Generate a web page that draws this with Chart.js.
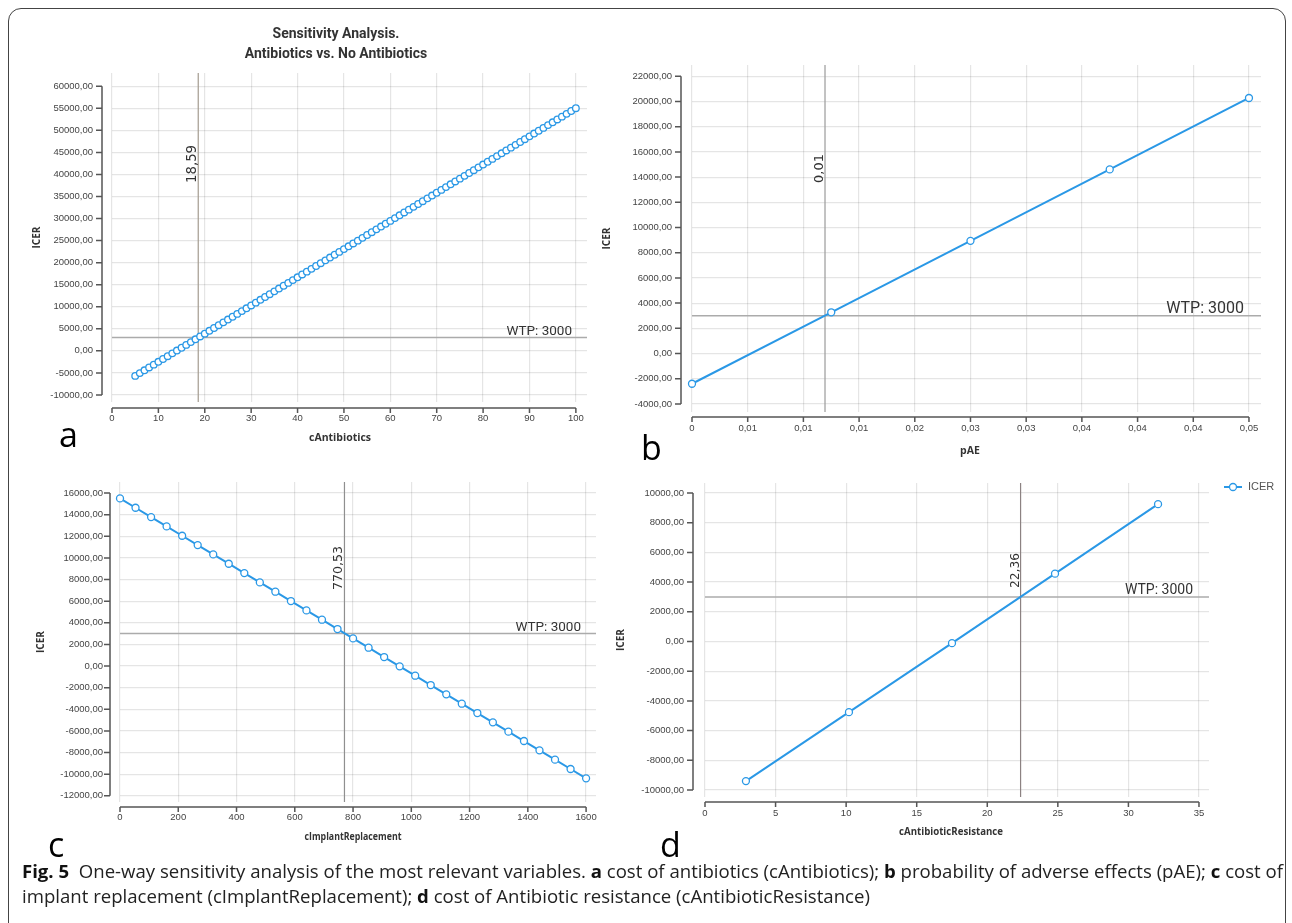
<!DOCTYPE html>
<html><head><meta charset="utf-8">
<script src="https://cdn.jsdelivr.net/npm/chart.js@4.4.1/dist/chart.umd.min.js"></script>
<style>
html,body{margin:0;padding:0;background:#fff;}
body{width:1292px;height:923px;position:relative;overflow:hidden;}
canvas{position:absolute;left:0;top:0;}
#frame{position:absolute;left:8px;top:8px;width:1276px;height:1000px;border:1px solid #444;border-radius:13px;}
#title{position:absolute;left:186px;top:23px;width:300px;text-align:center;font:bold 14px/20px Roboto,sans-serif;color:#333;}
#caption{position:absolute;left:22px;top:859px;font:17.5px/25px 'Open Sans',sans-serif;color:#222;white-space:nowrap;transform-origin:0 0;}
#caption b{font-weight:700;color:#111;}
#l1,#l2{display:inline-block;white-space:nowrap;}
</style></head><body>
<div id="frame"></div>
<canvas id="ca" width="1292" height="923"></canvas>
<canvas id="cb" width="1292" height="923"></canvas>
<canvas id="cc" width="1292" height="923"></canvas>
<canvas id="cd" width="1292" height="923"></canvas>
<div id="title">Sensitivity Analysis.<br>Antibiotics vs. No Antibiotics</div>
<div id="caption"><span id="l1"><b>Fig. 5</b>&nbsp;&nbsp;One-way sensitivity analysis of the most relevant variables. <b>a</b> cost of antibiotics (cAntibiotics); <b>b</b> probability of adverse effects (pAE); <b>c</b> cost of</span><br><span id="l2">implant replacement (cImplantReplacement); <b>d</b> cost of Antibiotic resistance (cAntibioticResistance)</span></div>
<script>
// ---------- DATA ----------
const WTP = 3000;
// panel a: cAntibiotics
const aX = [5,6,7,8,9,10,11,12,13,14,15,16,17,18,19,20,21,22,23,24,25,26,27,28,29,30,31,32,33,34,35,36,37,38,39,40,41,42,43,44,45,46,47,48,49,50,51,52,53,54,55,56,57,58,59,60,61,62,63,64,65,66,67,68,69,70,71,72,73,74,75,76,77,78,79,80,81,82,83,84,85,86,87,88,89,90,91,92,93,94,95,96,97,98,99,100];
const aICER = [-5685,-5046,-4407,-3768,-3129,-2490,-1851,-1212,-573,66,705,1344,1983,2622,3261,3900,4539,5178,5817,6456,7095,7734,8373,9012,9651,10290,10929,11568,12207,12846,13485,14124,14763,15402,16041,16680,17319,17958,18597,19236,19875,20514,21153,21792,22431,23070,23709,24348,24987,25626,26265,26904,27543,28182,28821,29460,30099,30738,31377,32016,32655,33294,33933,34572,35211,35850,36489,37128,37767,38406,39045,39684,40323,40962,41601,42240,42879,43518,44157,44796,45435,46074,46713,47352,47991,48630,49269,49908,50547,51186,51825,52464,53103,53742,54381,55020];
const aCut = 18.59, aCutLabel = '18,59';
const aXTicks = [0,10,20,30,40,50,60,70,80,90,100];
const aXLabels = ['0','10','20','30','40','50','60','70','80','90','100'];
const aYTicks = [-10000,-5000,0,5000,10000,15000,20000,25000,30000,35000,40000,45000,50000,55000,60000];
const aYLabels = ['-10000,00','-5000,00','0,00','5000,00','10000,00','15000,00','20000,00','25000,00','30000,00','35000,00','40000,00','45000,00','50000,00','55000,00','60000,00'];

// panel b: pAE
const bX = [0, 0.0125, 0.025, 0.0375, 0.05];
const bICER = [-2400, 3270, 8940, 14610, 20280];
const bCut = 0.01194, bCutLabel = '0,01';
const bXTicks = [0,0.005,0.01,0.015,0.02,0.025,0.03,0.035,0.04,0.045,0.05];
const bXLabels = ['0','0,01','0,01','0,01','0,02','0,03','0,03','0,04','0,04','0,04','0,05'];
const bYTicks = [-4000,-2000,0,2000,4000,6000,8000,10000,12000,14000,16000,18000,20000,22000];
const bYLabels = ['-4000,00','-2000,00','0,00','2000,00','4000,00','6000,00','8000,00','10000,00','12000,00','14000,00','16000,00','18000,00','20000,00','22000,00'];

// panel c: cImplantReplacement
const cX = [0,53.3,106.7,160,213.3,266.7,320,373.3,426.7,480,533.3,586.7,640,693.3,746.7,800,853.3,906.7,960,1013.3,1066.7,1120,1173.3,1226.7,1280,1333.3,1386.7,1440,1493.3,1546.7,1600];
const cICER = [15500,14637,13774,12911,12048,11185,10322,9459,8596,7733,6870,6007,5144,4281,3418,2555,1692,829,-34,-897,-1760,-2623,-3486,-4349,-5212,-6075,-6938,-7801,-8664,-9527,-10390];
const cCut = 770.53, cCutLabel = '770,53';
const cXTicks = [0,200,400,600,800,1000,1200,1400,1600];
const cXLabels = ['0','200','400','600','800','1000','1200','1400','1600'];
const cYTicks = [-12000,-10000,-8000,-6000,-4000,-2000,0,2000,4000,6000,8000,10000,12000,14000,16000];
const cYLabels = ['-12000,00','-10000,00','-8000,00','-6000,00','-4000,00','-2000,00','0,00','2000,00','4000,00','6000,00','8000,00','10000,00','12000,00','14000,00','16000,00'];

// panel d: cAntibioticResistance
const dX = [2.9, 10.2, 17.5, 24.8, 32.1];
const dICER = [-9400, -4760, -110, 4570, 9250];
const dCut = 22.36, dCutLabel = '22,36';
const dXTicks = [0,5,10,15,20,25,30,35];
const dXLabels = ['0','5','10','15','20','25','30','35'];
const dYTicks = [-10000,-8000,-6000,-4000,-2000,0,2000,4000,6000,8000,10000];
const dYLabels = ['-10000,00','-8000,00','-6000,00','-4000,00','-2000,00','0,00','2000,00','4000,00','6000,00','8000,00','10000,00'];

// ---------- STYLE ----------
const BLUE = '#2a98e6';
const GRID = 'rgba(0,0,0,0.10)';
const TF = {family: "'Liberation Sans',Arial,sans-serif", size: 9.5};
const W = 1292, Hh = 923, YW = 100, XH = 30;

function makeDecor(P) {
  return {
    id: 'decor_' + P.id,
    beforeDatasetsDraw(chart) {
      const {ctx, chartArea: a, scales: {x, y}} = chart;
      ctx.save();
      const vx = x.getPixelForValue(P.cut);
      ctx.strokeStyle = P.vColor; ctx.lineWidth = 1.2;
      ctx.beginPath(); ctx.moveTo(vx, a.top); ctx.lineTo(vx, a.bottom); ctx.stroke();
      const wy = y.getPixelForValue(WTP);
      ctx.strokeStyle = '#ababab'; ctx.lineWidth = 1.5;
      ctx.beginPath(); ctx.moveTo(a.left, wy); ctx.lineTo(a.right, wy); ctx.stroke();
      ctx.restore();
    },
    afterDraw(chart) {
      const {ctx, chartArea: a, scales: {x, y}} = chart;
      ctx.save();
      const xt = x.ticks.map(t => x.getPixelForValue(t.value));
      const yt = y.ticks.map(t => y.getPixelForValue(t.value));
      ctx.strokeStyle = '#555'; ctx.lineWidth = 1.5;
      const ax = P.yAxisX;
      ctx.beginPath();
      ctx.moveTo(ax, Math.min(...yt)); ctx.lineTo(ax, Math.max(...yt));
      yt.forEach(p => { ctx.moveTo(ax - 6, p); ctx.lineTo(ax, p); });
      ctx.stroke();
      const ay = P.xAxisY;
      ctx.beginPath();
      ctx.moveTo(Math.min(...xt), ay); ctx.lineTo(Math.max(...xt), ay);
      xt.forEach(p => { ctx.moveTo(p, ay); ctx.lineTo(p, ay + 5); });
      ctx.stroke();
      // cut label (rotated)
      const vx = x.getPixelForValue(P.cut);
      ctx.fillStyle = '#333';
      ctx.font = P.cutFont + "px 'DejaVu Sans'";
      ctx.save();
      ctx.translate(vx - 2, P.cutLabelY); ctx.rotate(-Math.PI / 2);
      ctx.textAlign = 'left'; ctx.textBaseline = 'alphabetic';
      ctx.fillText(P.cutLabel, 0, 0);
      ctx.restore();
      // WTP label
      const wy = y.getPixelForValue(WTP);
      ctx.font = P.wtpFont + 'px Roboto';
      ctx.textAlign = 'right'; ctx.textBaseline = 'alphabetic';
      ctx.fillText('WTP: ' + WTP, P.wtpRight, wy - 3);
      // axis titles
      ctx.fillStyle = '#333';
      ctx.font = "bold 10.5px 'Open Sans'";
      ctx.textAlign = 'center'; ctx.textBaseline = 'middle';
      ctx.fillText(P.xTitle, P.xTitlePos[0], P.xTitlePos[1], P.xTitleW);
      ctx.save();
      ctx.translate(P.yTitleX, (a.top + a.bottom) / 2); ctx.rotate(-Math.PI / 2);
      ctx.fillText('ICER', 0, 0, 22);
      ctx.restore();
      // panel letter
      ctx.fillStyle = '#000';
      ctx.font = "34px 'Open Sans'";
      ctx.textAlign = 'left'; ctx.textBaseline = 'alphabetic';
      ctx.fillText(P.letter, P.letterPos[0], P.letterPos[1]);
      // legend
      if (P.legend) {
        const [lx, ly] = P.legend;
        ctx.strokeStyle = BLUE; ctx.lineWidth = 2;
        ctx.beginPath(); ctx.moveTo(lx, ly); ctx.lineTo(lx + 18, ly); ctx.stroke();
        ctx.fillStyle = '#fff'; ctx.lineWidth = 1.3;
        ctx.beginPath(); ctx.arc(lx + 9, ly, 3.5, 0, Math.PI * 2); ctx.fill(); ctx.stroke();
        ctx.fillStyle = '#555'; ctx.font = "11px 'Liberation Sans'";
        ctx.textBaseline = 'middle';
        ctx.fillText(chart.data.datasets[0].label, lx + 24, ly);
      }
      ctx.restore();
    }
  };
}

function panel(P) {
  const A = P.area;
  new Chart(document.getElementById(P.id), {
    type: 'line',
    data: {datasets: [{
      label: 'ICER',
      data: P.xs.map((v, i) => ({x: v, y: P.ys[i]})),
      borderColor: BLUE, backgroundColor: '#fff', borderWidth: 2,
      pointRadius: P.pr, pointBorderWidth: 1.3,
      pointBackgroundColor: '#fff', pointBorderColor: BLUE,
      tension: 0, clip: false
    }]},
    options: {
      responsive: false, animation: false, events: [],
      layout: {padding: {left: A.l - YW, top: A.t, right: W - A.r, bottom: Hh - A.b - XH}},
      plugins: {legend: {display: false}, tooltip: {enabled: false}, title: {display: false}},
      scales: {
        x: {
          type: 'linear', bounds: 'data', min: P.xMin, max: P.xMax,
          afterBuildTicks: s => { s.ticks = P.xTicks.map(v => ({value: v})); },
          afterFit: s => { s.height = XH; },
          grid: {color: GRID, lineWidth: 1.2, drawTicks: false},
          border: {display: false},
          ticks: {autoSkip: false, maxRotation: 0, minRotation: 0, padding: P.xPad, color: '#444', font: TF,
                  callback: (v, i) => P.xLabels[i]}
        },
        y: {
          type: 'linear', bounds: 'data', min: P.yMin, max: P.yMax,
          afterBuildTicks: s => { s.ticks = P.yTicks.map(v => ({value: v})); },
          afterFit: s => { s.width = YW; },
          grid: {color: GRID, lineWidth: 1.2, drawTicks: false},
          border: {display: false},
          ticks: {autoSkip: false, padding: P.yPad, color: '#444', font: TF,
                  callback: (v, i) => P.yLabels[i]}
        }
      }
    },
    plugins: [makeDecor(P)]
  });
}

panel({id: 'ca', xs: aX, ys: aICER, pr: 3.3,
  area: {l: 112, r: 587, t: 73, b: 402}, xMin: 0, xMax: 102.4, yMin: -11600, yMax: 63000,
  xTicks: aXTicks, xLabels: aXLabels, yTicks: aYTicks, yLabels: aYLabels,
  xPad: 11, yPad: 19, yAxisX: 102, xAxisY: 408,
  cut: aCut, cutLabel: aCutLabel, cutFont: 13.3, cutLabelY: 183, vColor: '#a39b8f',
  wtpFont: 13.5, wtpRight: 572,
  xTitle: 'cAntibiotics', xTitlePos: [340, 438], xTitleW: 68, yTitleX: 37,
  letter: 'a', letterPos: [59, 447]});

panel({id: 'cb', xs: bX, ys: bICER, pr: 3.5,
  area: {l: 692, r: 1261, t: 65, b: 412}, xMin: 0, xMax: 0.05108, yMin: -4643, yMax: 22898,
  xTicks: bXTicks, xLabels: bXLabels, yTicks: bYTicks, yLabels: bYLabels,
  xPad: 11, yPad: 20, yAxisX: 681, xAxisY: 417,
  cut: bCut, cutLabel: bCutLabel, cutFont: 13, cutLabelY: 183, vColor: '#9a9a9a',
  wtpFont: 16, wtpRight: 1244,
  xTitle: 'pAE', xTitlePos: [970, 451], xTitleW: 24, yTitleX: 607,
  letter: 'b', letterPos: [641, 460]});

panel({id: 'cc', xs: cX, ys: cICER, pr: 3.5,
  area: {l: 120, r: 596, t: 482, b: 802}, xMin: 0, xMax: 1634, yMin: -12578, yMax: 17018,
  xTicks: cXTicks, xLabels: cXLabels, yTicks: cYTicks, yLabels: cYLabels,
  xPad: 10, yPad: 17, yAxisX: 110, xAxisY: 807,
  cut: cCut, cutLabel: cCutLabel, cutFont: 12.6, cutLabelY: 590, vColor: '#8f8f8f',
  wtpFont: 13.5, wtpRight: 581,
  xTitle: 'cImplantReplacement', xTitlePos: [353, 837], xTitleW: 97, yTitleX: 41.5,
  letter: 'c', letterPos: [48, 857]});

panel({id: 'cd', xs: dX, ys: dICER, pr: 3.5,
  area: {l: 705, r: 1209, t: 483, b: 797}, xMin: 0, xMax: 35.71, yMin: -10472, yMax: 10673,
  xTicks: dXTicks, xLabels: dXLabels, yTicks: dYTicks, yLabels: dYLabels,
  xPad: 11, yPad: 21, yAxisX: 693, xAxisY: 802,
  cut: dCut, cutLabel: dCutLabel, cutFont: 12.2, cutLabelY: 588, vColor: '#8c8282',
  wtpFont: 14, wtpRight: 1193,
  xTitle: 'cAntibioticResistance', xTitlePos: [951, 832], xTitleW: 104, yTitleX: 621,
  letter: 'd', letterPos: [660, 857], legend: [1224, 487]});

// caption: compress horizontally so that line 1 spans the figure width
(function(){
  const cap = document.getElementById('caption');
  const w1 = document.getElementById('l1').getBoundingClientRect().width;
  cap.style.transform = 'scaleX(' + (1261 / w1) + ')';
})();
</script>
</body></html>
